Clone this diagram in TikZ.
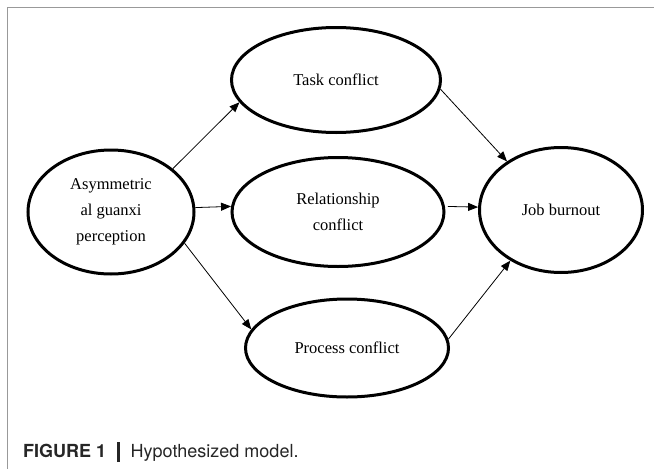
\documentclass[tikz,border=0pt]{standalone}
\usepackage{fontspec}
\setmainfont{Liberation Serif}
\newfontfamily\capfont{TeX Gyre Heros}
\usetikzlibrary{shapes.geometric,arrows.meta}
\begin{document}
\begin{tikzpicture}[x=1pt,y=-1pt,
  var/.style={draw=black,line width=3pt,ellipse,inner sep=0pt,align=center,
    font=\fontsize{16.5}{26}\selectfont},
  link/.style={draw=black,line width=0.8pt,-{Triangle[length=10pt,width=8pt]}},
  plain/.style={draw=black,line width=0.8pt}]
\useasboundingbox (0,0) rectangle (654,469);
\draw[gray!80,line width=1pt] (7,469) -- (7,7) -- (654,7);
\node[var,minimum width=166pt,minimum height=124pt] (asym) at (111,212) {Asymmetric\\al guanxi\\perception};
\node[var,minimum width=209pt,minimum height=105pt] (task) at (336,80) {Task conflict};
\node[var,minimum width=212pt,minimum height=109pt] (rel) at (338,212) {Relationship\\conflict};
\node[var,minimum width=203pt,minimum height=98pt] (proc) at (347,348) {Process conflict};
\node[var,minimum width=163pt,minimum height=125pt] (job) at (561,210) {Job burnout};
\draw[link] (asym.35) -- (task.193);
\draw[link] (asym.3.7) -- (rel.177);
\draw[link] (asym.-23) -- (proc.169);
\draw[link] (task.-5) -- (job.138);
\draw[link,shorten <=3pt] (rel.3) -- (job.178);
\draw[link] (proc.5) -- (job.225);
\node[anchor=base west,inner sep=0pt,text=black!85,font=\capfont\fontsize{18}{20}\selectfont] (cap) at (23,457)
  {\textbf{FIGURE 1}\hspace{11pt}\rule[-5pt]{2.5pt}{20pt}\hspace{11pt}Hypothesized model.};
\end{tikzpicture}
\end{document}
